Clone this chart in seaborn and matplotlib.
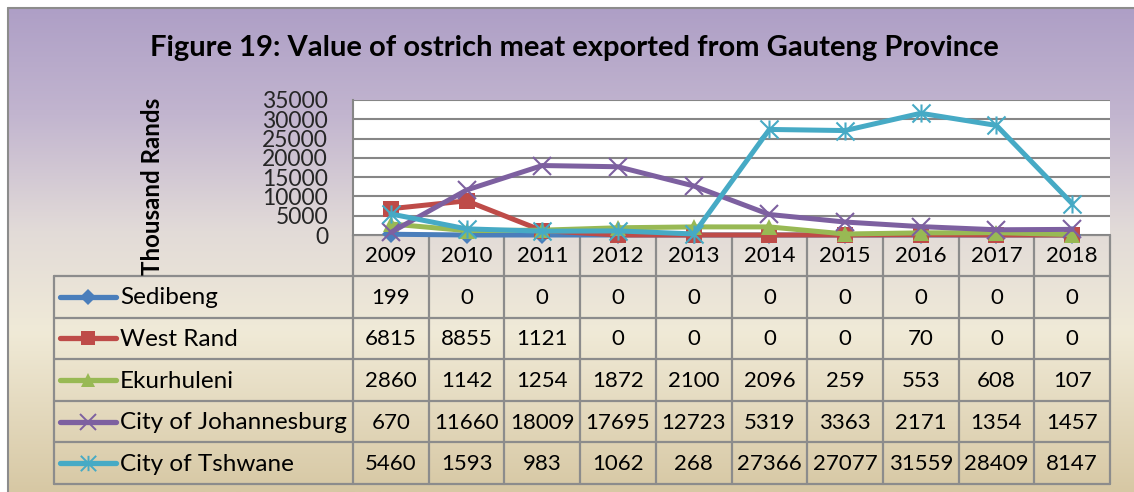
import numpy as np
import pandas as pd
import matplotlib
matplotlib.use("Agg")
import matplotlib.pyplot as plt
from matplotlib.path import Path
from matplotlib.colors import LinearSegmentedColormap
import seaborn as sns

sns.set_style("white")
plt.rcParams['font.family'] = ['Lato', 'DejaVu Sans']

# ---------------- data ----------------
years = [2009, 2010, 2011, 2012, 2013, 2014, 2015, 2016, 2017, 2018]
series_names = ["Sedibeng", "West Rand", "Ekurhuleni", "City of Johannesburg", "City of Tshwane"]
sedibeng = [199, 0, 0, 0, 0, 0, 0, 0, 0, 0]
west_rand = [6815, 8855, 1121, 0, 0, 0, 0, 70, 0, 0]
ekurhuleni = [2860, 1142, 1254, 1872, 2100, 2096, 259, 553, 608, 107]
johannesburg = [670, 11660, 18009, 17695, 12723, 5319, 3363, 2171, 1354, 1457]
tshwane = [5460, 1593, 983, 1062, 268, 27366, 27077, 31559, 28409, 8147]
y_ticks = [0, 5000, 10000, 15000, 20000, 25000, 30000, 35000]
title = "Figure 19: Value of ostrich meat exported from Gauteng Province"
y_label = "Thousand Rands"

values = [sedibeng, west_rand, ekurhuleni, johannesburg, tshwane]
df = pd.DataFrame({"year": np.tile(years, len(series_names)),
                   "series": np.repeat(series_names, len(years)),
                   "value": np.concatenate(values)})

colors = ["#4a7ebb", "#be4b48", "#98b954", "#7d60a0", "#46aac5"]
asterisk = Path([(0, -1), (0, 1), (-1, -1), (1, 1), (-1, 1), (1, -1)],
                [Path.MOVETO, Path.LINETO, Path.MOVETO, Path.LINETO, Path.MOVETO, Path.LINETO])
markers = ["D", "s", "^", "x", asterisk]
msizes = [9, 12, 12, 13, 13]
filled = [True, True, True, False, False]

W, H = 1134, 492
fig = plt.figure(figsize=(W / 100, H / 100), dpi=100)
fig.patch.set_facecolor("white")

def fx(px):
    return px / W

def fy(py):
    return 1 - py / H

# ---------------- background with gradient ----------------
bg = fig.add_axes([0, 0, 1, 1], zorder=0)
bg.set_xlim(0, W)
bg.set_ylim(H, 0)
bg.axis("off")
cmap = LinearSegmentedColormap.from_list(
    "bg", [(0.0, "#ae9fc6"), (0.22, "#c2b5cf"), (0.46, "#e2dbd8"),
           (0.67, "#f0ead7"), (1.0, "#d7c8a4")])
grad = np.linspace(0, 1, 256).reshape(-1, 1)
bg.imshow(grad, cmap=cmap, aspect="auto", extent=(8, W, H, 8), zorder=0)
bg.plot([8, 8], [8, H], color="#8c8c8c", lw=1.5, zorder=1)
bg.plot([8, W], [8, 8], color="#8c8c8c", lw=1.5, zorder=1)

# ---------------- table ----------------
x0, x1 = 353, 1110
tab_left = 54
col_edges = np.linspace(x0, x1, len(years) + 1)
col_centers = (col_edges[:-1] + col_edges[1:]) / 2
row_edges = np.linspace(276, 484, len(series_names) + 1)
head_top, head_bot = 235, 276
gc = "#8c8c8c"
glw = 1.6
bg.plot([x0, x1], [head_top, head_top], color=gc, lw=glw, zorder=2)
for xe in col_edges:
    bg.plot([xe, xe], [head_top, row_edges[-1]], color=gc, lw=glw, zorder=2)
for ye in row_edges:
    bg.plot([tab_left, x1], [ye, ye], color=gc, lw=glw, zorder=2)
bg.plot([tab_left, tab_left], [row_edges[0], row_edges[-1]], color=gc, lw=glw, zorder=2)

fs_num = 16
fs_name = 17.5
for xc, yr in zip(col_centers, years):
    bg.text(xc, (head_top + head_bot) / 2 + 1, str(yr), ha="center", va="center",
            fontsize=fs_num, color="black", zorder=3)

for i, (name, vals) in enumerate(zip(series_names, values)):
    yc = (row_edges[i] + row_edges[i + 1]) / 2
    for xc, v in zip(col_centers, vals):
        bg.text(xc, yc + 1, str(v), ha="center", va="center", fontsize=fs_num,
                color="black", zorder=3)
    bg.plot([60, 116], [yc, yc], color=colors[i], lw=3.8, solid_capstyle="round", zorder=3)
    if filled[i]:
        bg.plot([88], [yc], marker=markers[i], ms=msizes[i] * 0.85, color=colors[i],
                mec=colors[i], mew=0, linestyle="none", zorder=4)
    else:
        bg.plot([88], [yc], marker=markers[i], ms=msizes[i] * 0.85, color=colors[i],
                mec=colors[i], mfc="none", mew=1.4, linestyle="none", zorder=4)
    bg.text(120, yc + 1, name, ha="left", va="center", fontsize=fs_name, color="black", zorder=3)

# ---------------- main plot ----------------
ax = fig.add_axes([fx(x0), fy(235), fx(x1) - fx(x0), fy(100) - fy(235)], zorder=2)
ax.set_facecolor("white")
for i, name in enumerate(series_names):
    sub = df[df["series"] == name]
    kw = dict(color=colors[i], marker=markers[i], markersize=msizes[i], linewidth=3.6,
              markeredgecolor=colors[i], clip_on=False)
    if filled[i]:
        kw.update(markeredgewidth=0)
    else:
        kw.update(markeredgewidth=1.5, markerfacecolor="none")
    sns.lineplot(data=sub, x="year", y="value", ax=ax, legend=False, zorder=3 + i, **kw)

ax.set_xlim(years[0] - 0.5, years[-1] + 0.5)
ax.set_ylim(y_ticks[0], y_ticks[-1])
ax.set_yticks(y_ticks)
ax.set_yticklabels([str(t) for t in y_ticks], fontsize=16.5)
ax.set_xticks([])
ax.tick_params(axis="y", length=0, pad=18)
ax.grid(axis="y", color="#868686", lw=1.5)
ax.set_axisbelow(True)
ax.set_xlabel("")
ax.set_ylabel("")
for s in ["top", "right", "bottom"]:
    ax.spines[s].set_visible(False)
ax.spines["left"].set_color("#868686")
ax.spines["left"].set_linewidth(1.5)

# ---------------- texts ----------------
fig.text(fx(574), fy(48), title, ha="center", va="center", fontsize=21,
         fontweight="bold", color="black")
fig.text(fx(153), fy(186), y_label, ha="center", va="center", rotation=90,
         fontsize=17.3, fontweight="bold", color="black")

fig.savefig("out.png", dpi=100, facecolor=fig.get_facecolor())
